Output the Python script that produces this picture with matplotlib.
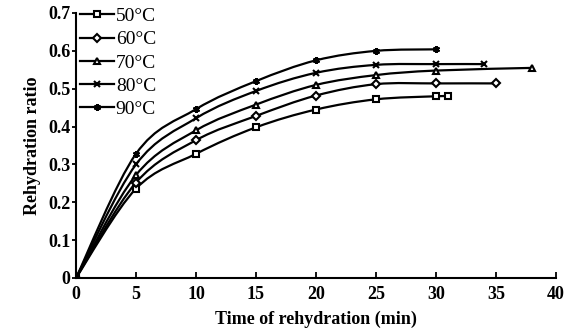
import matplotlib
matplotlib.use("Agg")
import matplotlib.pyplot as plt
from matplotlib.path import Path
from matplotlib.patches import PathPatch
from matplotlib.lines import Line2D

plt.rcParams["font.family"] = ["Liberation Serif", "DejaVu Serif"]

# =========================
# Data
# =========================

labels = ["50°C", "60°C", "70°C", "80°C", "90°C"]
markers = ["s", "D", "^", "x", (6, 2, 0)]

t_50 = [0, 5, 10, 15, 20, 25, 30, 31]
r_50 = [0, 0.236, 0.328, 0.398, 0.445, 0.472, 0.480, 0.480]

t_60 = [0, 5, 10, 15, 20, 25, 30, 35]
r_60 = [0, 0.252, 0.364, 0.428, 0.482, 0.512, 0.514, 0.514]

t_70 = [0, 5, 10, 15, 20, 25, 30, 38]
r_70 = [0, 0.272, 0.390, 0.458, 0.510, 0.536, 0.548, 0.555]

t_80 = [0, 5, 10, 15, 20, 25, 30, 34]
r_80 = [0, 0.300, 0.422, 0.494, 0.542, 0.563, 0.565, 0.565]

t_90 = [0, 5, 10, 15, 20, 25, 30]
r_90 = [0, 0.328, 0.446, 0.520, 0.575, 0.600, 0.604]

series = [(t_50, r_50), (t_60, r_60), (t_70, r_70), (t_80, r_80), (t_90, r_90)]


def smooth_path(x, y):
    # Catmull-Rom style bezier through the points (like a smoothed line chart)
    pts = list(zip(x, y))
    verts = [pts[0]]
    codes = [Path.MOVETO]
    n = len(pts)
    for i in range(n - 1):
        p0 = pts[i - 1] if i > 0 else pts[i]
        p1 = pts[i]
        p2 = pts[i + 1]
        p3 = pts[i + 2] if i + 2 < n else pts[i + 1]
        c1 = (p1[0] + (p2[0] - p0[0]) / 6, p1[1] + (p2[1] - p0[1]) / 6)
        c2 = (p2[0] - (p3[0] - p1[0]) / 6, p2[1] - (p3[1] - p1[1]) / 6)
        verts += [c1, c2, p2]
        codes += [Path.CURVE4] * 3
    return Path(verts, codes)


fig = plt.figure(figsize=(5.66, 3.33), dpi=100)
ax = fig.add_axes([76 / 566, 1 - 278 / 333, 480 / 566, 265 / 333])

handles = []
for (t, r), lab, m in zip(series, labels, markers):
    face = "white" if m in ("s", "D", "^") else "black"
    ms = 4.5 if m == "D" else 5
    ax.add_patch(PathPatch(smooth_path(t, r), facecolor="none",
                           edgecolor="black", linewidth=1.6))
    ax.plot(t, r, linestyle="none", marker=m, markersize=ms,
            markerfacecolor=face, markeredgecolor="black",
            markeredgewidth=1.5)
    handles.append(Line2D([], [], color="black", linewidth=1.6, marker=m,
                          markersize=ms, markerfacecolor=face,
                          markeredgecolor="black", markeredgewidth=1.5,
                          label=lab))

ax.set_xlim(0, 40)
ax.set_ylim(0, 0.7)
ax.set_xticks(range(0, 41, 5))
ax.set_yticks([0, 0.1, 0.2, 0.3, 0.4, 0.5, 0.6, 0.7])
ax.set_yticklabels(["0", "0.1", "0.2", "0.3", "0.4", "0.5", "0.6", "0.7"])

ax.spines["top"].set_visible(False)
ax.spines["right"].set_visible(False)
ax.spines["left"].set_linewidth(1.5)
ax.spines["bottom"].set_linewidth(1.5)

ax.tick_params(axis="x", direction="in", length=4, width=1.3, labelsize=13, pad=6)
ax.tick_params(axis="y", direction="out", length=3, width=1.3, labelsize=13, pad=1)
for lbl in ax.get_xticklabels() + ax.get_yticklabels():
    lbl.set_fontweight("bold")

ax.set_xlabel("Time of rehydration (min)", fontsize=13, fontweight="bold", labelpad=5)
ax.set_ylabel("Rehydration ratio", fontsize=13, fontweight="bold", labelpad=5)

ax.legend(
    handles=handles,
    loc="upper left",
    bbox_to_anchor=(0.0, 1.035),
    frameon=False,
    fontsize=14,
    handlelength=1.75,
    handletextpad=0.1,
    labelspacing=0.29,
    borderaxespad=0.1,
    borderpad=0.1,
)

fig.savefig("out.png", dpi=100)
